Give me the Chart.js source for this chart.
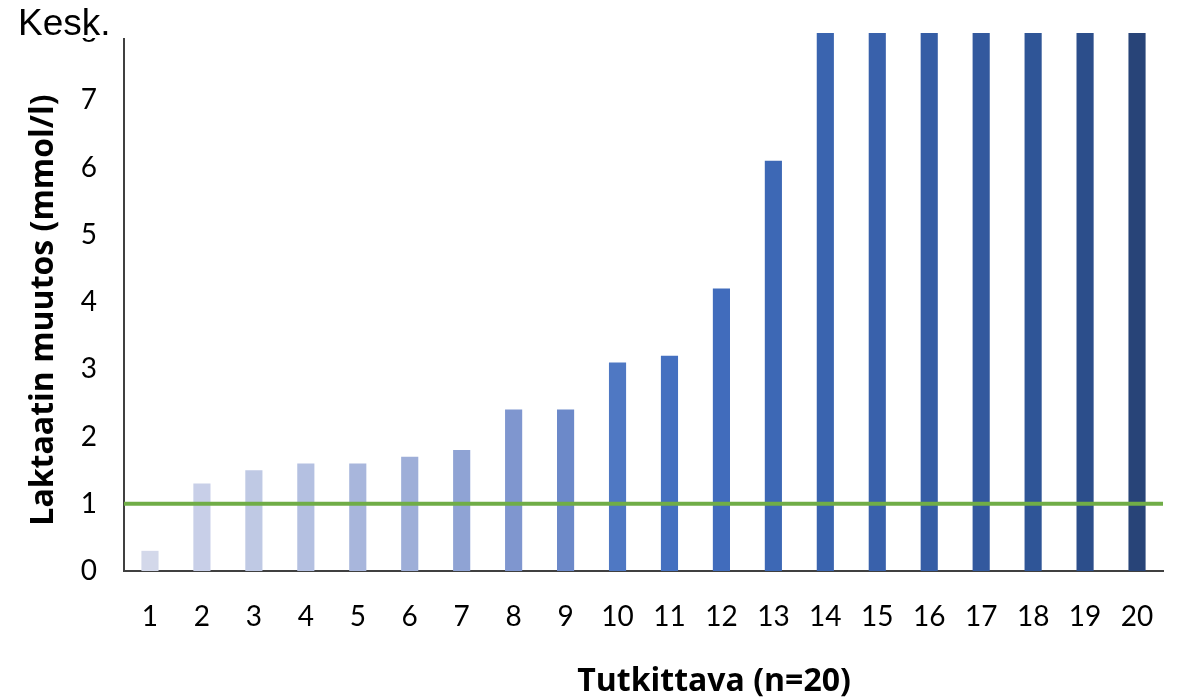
<!DOCTYPE html>
<html>
<head>
<meta charset="utf-8">
<script src="https://cdn.jsdelivr.net/npm/chart.js@4/dist/chart.umd.min.js"></script>
<style>
  html, body { margin: 0; padding: 0; background: #ffffff; }
  #wrap { width: 1183px; height: 700px; position: relative; }
</style>
</head>
<body>
<div id="wrap"><canvas id="c" width="1183" height="700"></canvas></div>
<script>
// Subjects (Tutkittava) and their lactate change in mmol/l
const subjects = ['1','2','3','4','5','6','7','8','9','10','11','12','13','14','15','16','17','18','19','20'];
const lactateChange = [0.3, 1.3, 1.5, 1.6, 1.6, 1.7, 1.8, 2.4, 2.4, 3.1, 3.2, 4.2, 6.1, 8, 8, 8, 8, 8, 8, 8];
const barColors = ['#D3D8EA','#C8CFE8','#BFC9E4','#B4C0E1','#A8B6DC','#9EAED8','#8FA3D4','#7F96CF','#6C89C9','#4F78C3',
                   '#4470C0','#416CBC','#3D68B5','#3A64AF','#3961AB','#355DA5','#33599E','#2F5597','#2C4E8B','#284478'];
const yTicks = [0, 1, 2, 3, 4, 5, 6, 7, 8];
const threshold = 1;           // reference level drawn as a green line
const cornerLabel = 'Kesk.';
const yTitle = 'Laktaatin muutos (mmol/l)';
const xTitle = 'Tutkittava (n=20)';

const tickFont = { family: 'Lato', size: 28 };
const titleFont = 'bold 32px "Open Sans"';

const overlay = {
  id: 'overlay',
  afterDatasetsDraw(chart) {
    const { ctx, chartArea, scales } = chart;
    const y = scales.y.getPixelForValue(threshold);
    ctx.save();
    ctx.strokeStyle = '#70AD47';
    ctx.lineWidth = 4;
    ctx.beginPath();
    ctx.moveTo(chartArea.left, y);
    ctx.lineTo(chartArea.right, y);
    ctx.stroke();
    ctx.restore();
  },
  afterDraw(chart) {
    const { ctx, chartArea } = chart;
    ctx.save();
    // axis titles
    ctx.fillStyle = '#000000';
    ctx.font = titleFont;
    ctx.textAlign = 'center';
    ctx.textBaseline = 'middle';
    ctx.fillText(xTitle, 714, 682);
    ctx.translate(44, (chartArea.top + chartArea.bottom) / 2 + 8);
    ctx.rotate(-Math.PI / 2);
    ctx.fillText(yTitle, 0, 0);
    ctx.restore();

    // corner label on a white box
    ctx.save();
    ctx.fillStyle = '#ffffff';
    ctx.fillRect(0, 0, 127, 38);
    ctx.fillStyle = '#000000';
    ctx.font = '37px "Liberation Sans"';
    ctx.textAlign = 'left';
    ctx.textBaseline = 'alphabetic';
    ctx.fillText(cornerLabel, 18, 35);
    ctx.restore();
  }
};

new Chart(document.getElementById('c'), {
  type: 'bar',
  data: {
    labels: subjects,
    datasets: [{
      data: lactateChange,
      backgroundColor: barColors,
      borderWidth: 0,
      categoryPercentage: 1,
      barPercentage: 0.33
    }]
  },
  options: {
    responsive: false,
    animation: false,
    events: [],
    layout: { padding: { top: 33, right: 20, left: 0, bottom: 0 } },
    plugins: { legend: { display: false }, tooltip: { enabled: false } },
    scales: {
      x: {
        grid: { display: false, drawTicks: false },
        border: { display: true, color: '#404040', width: 2 },
        ticks: { color: '#000000', font: tickFont, padding: 29, maxRotation: 0, autoSkip: false },
        afterFit(scale) { scale.height = 129; scale.paddingLeft = 0; scale.paddingRight = 0; }
      },
      y: {
        min: 0,
        max: 8,
        afterBuildTicks(scale) { scale.ticks = yTicks.map(v => ({ value: v })); },
        grid: { display: false, drawTicks: false },
        border: { display: true, color: '#404040', width: 2 },
        ticks: { color: '#000000', font: tickFont, padding: 27 },
        afterFit(scale) { scale.width = 124; scale.paddingTop = 0; scale.paddingBottom = 0; }
      }
    }
  },
  plugins: [overlay]
});
</script>
</body>
</html>
